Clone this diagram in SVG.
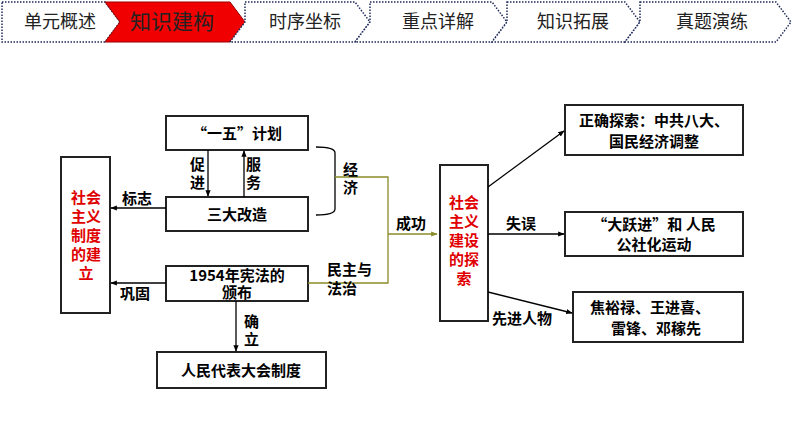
<svg xmlns="http://www.w3.org/2000/svg" width="794" height="447" viewBox="0 0 794 447">
<defs>
<marker id="ar" viewBox="0 0 10 10" refX="9" refY="5" markerWidth="5" markerHeight="5" orient="auto"><path d="M0,1 L10,5 L0,9 z" fill="#000"/></marker>
<marker id="ao" viewBox="0 0 10 10" refX="9" refY="5" markerWidth="5" markerHeight="5" orient="auto"><path d="M0,1 L10,5 L0,9 z" fill="#8a8a2a"/></marker>
</defs>
<style>
text{font-family:"Noto Sans CJK SC","Liberation Sans",sans-serif;font-size:15px;fill:#000}
.b{font-weight:bold}
.r{fill:#e00000;font-weight:bold}
.box{fill:#fff;stroke:#222;stroke-width:2}
.tab{fill:#fff;stroke:#1f2a5a;stroke-width:1.5;stroke-dasharray:1.5 1.5}
.tt{font-size:18px;fill:#222}
.c{stroke:#000;stroke-width:1.3;fill:none}
</style>
<rect width="794" height="447" fill="#fff"/>
<g id="nav">
<polygon class="tab" points="2,2 105,2 120,22 105,42 2,42"/>
<polygon points="105,2 230,2 245,22 230,42 105,42 120,22" fill="#f00000" stroke="#900" stroke-width="1"/>
<polygon class="tab" points="245,2 355,2 370,22 355,42 230,42 245,22"/>
<polygon class="tab" points="370,2 492,2 507,22 492,42 355,42 370,22"/>
<polygon class="tab" points="507,2 625,2 640,22 625,42 492,42 507,22"/>
<polygon class="tab" points="640,2 776,2 791,22 776,42 625,42 640,22"/>
<text class="tt" x="60" y="28" text-anchor="middle">单元概述</text>
<text class="tt" x="172" y="29" text-anchor="middle" style="font-size:21px">知识建构</text>
<text class="tt" x="305" y="28" text-anchor="middle">时序坐标</text>
<text class="tt" x="438" y="28" text-anchor="middle">重点详解</text>
<text class="tt" x="573" y="28" text-anchor="middle">知识拓展</text>
<text class="tt" x="712" y="28" text-anchor="middle">真题演练</text>
</g>
<g id="n-left"><rect class="box" x="61" y="157" width="49" height="156"/>
<text class="r" x="86" y="203" text-anchor="middle">社会</text><text class="r" x="86" y="222" text-anchor="middle">主义</text><text class="r" x="86" y="241" text-anchor="middle">制度</text><text class="r" x="86" y="260" text-anchor="middle">的建</text><text class="r" x="86" y="279" text-anchor="middle">立</text></g>
<g id="n-yiwu"><rect class="box" x="166" y="116" width="142" height="34"/><text class="b" x="237" y="139" text-anchor="middle">“一五”计划</text></g>
<g id="n-sanda"><rect class="box" x="166" y="197" width="142" height="34"/><text class="b" x="237" y="220" text-anchor="middle">三大改造</text></g>
<g id="n-1954"><rect class="box" x="166" y="266" width="142" height="35"/><text class="b" x="237" y="281" text-anchor="middle">1954年宪法的</text><text class="b" x="237" y="298" text-anchor="middle">颁布</text></g>
<g id="n-rmdb"><rect class="box" x="157" y="352" width="169" height="36"/><text class="b" x="241" y="376" text-anchor="middle">人民代表大会制度</text></g>
<g id="n-mid"><rect class="box" x="440" y="165" width="48" height="156"/>
<text class="r" x="464" y="208" text-anchor="middle">社会</text><text class="r" x="464" y="227" text-anchor="middle">主义</text><text class="r" x="464" y="246" text-anchor="middle">建设</text><text class="r" x="464" y="265" text-anchor="middle">的探</text><text class="r" x="464" y="284" text-anchor="middle">索</text></g>
<g id="n-r1"><rect class="box" x="565" y="105" width="178" height="50"/><text class="b" x="654" y="126" text-anchor="middle">正确探索：中共八大、</text><text class="b" x="654" y="147" text-anchor="middle">国民经济调整</text></g>
<g id="n-r2"><rect class="box" x="565" y="212" width="178" height="44"/><text class="b" x="654" y="230" text-anchor="middle">“大跃进”和 人民</text><text class="b" x="654" y="250" text-anchor="middle">公社化运动</text></g>
<g id="n-r3"><rect class="box" x="573" y="292" width="170" height="50"/><text class="b" x="650" y="313" text-anchor="middle">焦裕禄、王进喜、</text><text class="b" x="656" y="334" text-anchor="middle">雷锋、邓稼先</text></g>
<g id="connectors">
<line class="c" x1="208" y1="150" x2="208" y2="196" marker-end="url(#ar)"/>
<line class="c" x1="244" y1="197" x2="244" y2="151" marker-end="url(#ar)"/>
<line class="c" x1="166" y1="208" x2="111" y2="208" marker-end="url(#ar)"/>
<line class="c" x1="166" y1="283" x2="111" y2="283" marker-end="url(#ar)"/>
<line class="c" x1="236" y1="301" x2="236" y2="351" marker-end="url(#ar)"/>
<path class="c" d="M316,147 Q335,147 335,153 L335,209 Q335,215 316,215"/>
<path d="M335,177 L388,177 L388,283 L308,283 M388,234 L437,234" fill="none" stroke="#8a8a2a" stroke-width="1.3" marker-end="url(#ao)"/>
<line class="c" x1="488" y1="187" x2="564" y2="131" marker-end="url(#ar)"/>
<line class="c" x1="488" y1="234" x2="564" y2="234" marker-end="url(#ar)"/>
<line class="c" x1="488" y1="292" x2="572" y2="313" marker-end="url(#ar)"/>
</g>
<g id="labels">
<text class="b" x="190" y="170">促</text><text class="b" x="190" y="188">进</text>
<text class="b" x="246" y="170">服</text><text class="b" x="246" y="188">务</text>
<text class="b" x="122" y="204">标志</text>
<text class="b" x="120" y="299">巩固</text>
<text class="b" x="244" y="327">确</text><text class="b" x="244" y="345">立</text>
<text class="b" x="343" y="175">经</text><text class="b" x="343" y="193">济</text>
<text class="b" x="396" y="229">成功</text>
<text class="b" x="327" y="275">民主与</text><text class="b" x="327" y="294">法治</text>
<text class="b" x="506" y="229">失误</text>
<text class="b" x="492" y="324">先进人物</text>
</g>
</svg>
